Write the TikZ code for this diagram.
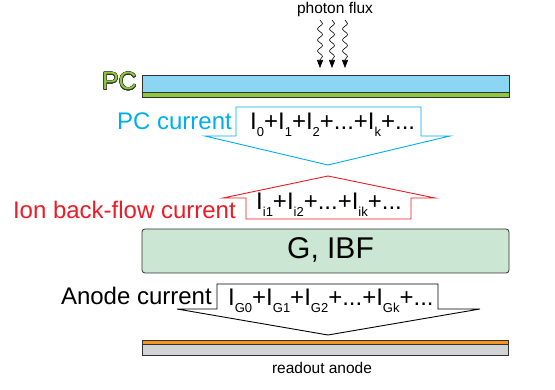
\documentclass[tikz,border=0pt]{standalone}
\usepackage{fontspec}
\setmainfont{Liberation Sans}
\usepackage{contour}
\contourlength{0.35pt}
\contournumber{16}
\usetikzlibrary{decorations.pathmorphing,arrows.meta}
\definecolor{pcblue}{RGB}{0,174,239}
\definecolor{ibfred}{RGB}{237,28,36}
\definecolor{barblue}{RGB}{140,214,244}
\definecolor{bargreen}{RGB}{141,198,63}
\definecolor{gbox}{RGB}{203,230,210}
\definecolor{anorange}{RGB}{247,148,30}
\definecolor{angray}{RGB}{209,211,212}
\definecolor{edge}{RGB}{50,50,50}
\newcommand\Isb[1]{I\raisebox{-0.28em}{\fontsize{13}{13}\selectfont #1}}
\tikzset{
  big/.style={font=\fontsize{24}{24}\selectfont, inner sep=0pt},
  small/.style={font=\fontsize{15.5}{15.5}\selectfont, inner sep=0pt},
  wavy/.style={decorate, decoration={snake, amplitude=2.5pt, segment length=11pt, post length=8pt},
    -{Triangle[length=8pt,width=6pt]}, line width=0.6pt},
  flowarrow/.style={line width=0.9pt, fill=white, line join=miter},
  layer/.style={draw=edge, line width=0.8pt}
}
\begin{document}
\begin{tikzpicture}[x=1pt,y=-1pt]
\useasboundingbox (0,0) rectangle (555,390);
% photon flux
\node[small, anchor=base] (flux) at (335,14) {photon flux};
\coordinate (w1s) at (320,20); \coordinate (w1e) at (320,68);
\coordinate (w2s) at (332,20); \coordinate (w2e) at (332,68);
\coordinate (w3s) at (345,20); \coordinate (w3e) at (345,68);
\draw[wavy] (w1s) -- (w1e);
\draw[wavy] (w2s) -- (w2e);
\draw[wavy] (w3s) -- (w3e);
% PC bar
\fill[bargreen] (142,92) rectangle (509,97);
\fill[barblue] (142,75) rectangle (509,92);
\draw[layer] (142,75) rectangle (509,97);
\draw[layer] (142,92) -- (509,92);
\node[inner sep=0pt, anchor=base east, font=\fontsize{25}{25}\selectfont] (pc) at (137,90) {\contour{edge}{\textcolor{bargreen}{PC}}};
% PC current arrow
\draw[flowarrow, draw=pcblue] (236,107) -- (421,107) -- (421,136) -- (450,136) -- (328,165) -- (205,136) -- (236,136) -- cycle;
\node[big, anchor=base east, text=pcblue] (pclabel) at (232,130) {PC current};
\node[big, anchor=base west] (pcsum) at (250,130) {\Isb{0}+\Isb{1}+\Isb{2}+...+\Isb{k}+...};
% Ion back-flow arrow
\draw[flowarrow, draw=ibfred] (328,176) -- (435,198) -- (411,198) -- (411,219) -- (246,219) -- (246,198) -- (223,198) -- cycle;
\node[big, anchor=base east, text=ibfred] (iblabel) at (236,219) {Ion back-flow current};
\node[big, anchor=base west] (ibsum) at (256,210) {\Isb{i1}+\Isb{i2}+...+\Isb{ik}+...};
% G, IBF box
\draw[layer, fill=gbox, rounded corners=3pt] (142,229) rectangle (509,273);
\node[inner sep=0pt, anchor=base, font=\fontsize{30}{30}\selectfont] (gibf) at (330.5,259) {G, IBF};
% Anode current arrow
\draw[flowarrow, draw=black] (217,284) -- (438,284) -- (438,309) -- (480,309) -- (328,335) -- (177,309) -- (217,309) -- cycle;
\node[big, anchor=base east] (anlabel) at (212,305) {Anode current};
\node[big, anchor=base west] (ansum) at (228,306) {\Isb{G0}+\Isb{G1}+\Isb{G2}+...+\Isb{Gk}+...};
% readout anode
\fill[anorange] (142,340) rectangle (508,344);
\fill[angray] (142,344) rectangle (508,355);
\draw[layer] (142,340) rectangle (508,355);
\draw[layer] (142,344) -- (508,344);
\node[small, anchor=base] (ro) at (322,374) {readout anode};
\end{tikzpicture}
\end{document}
